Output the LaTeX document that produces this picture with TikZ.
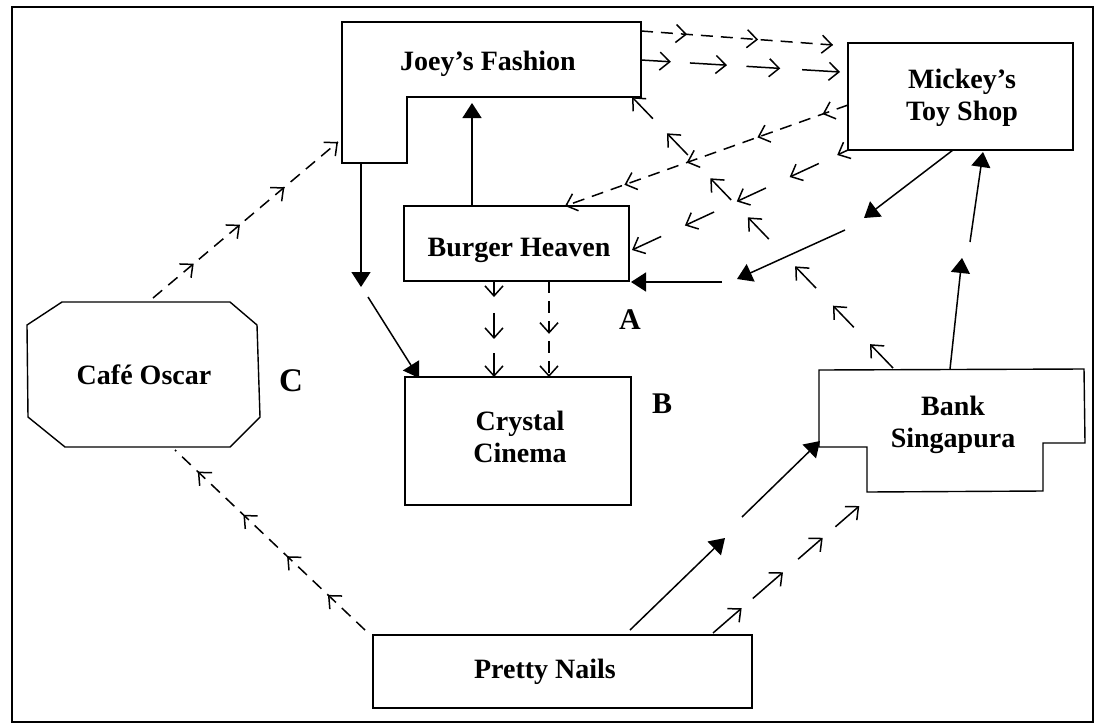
\documentclass[tikz,border=0pt]{standalone}
\usepackage{fontspec}
\setmainfont{Liberation Serif}
\usetikzlibrary{arrows.meta,calc}
\tikzset{
  outline/.style={draw, line width=1.4pt, line join=miter},
  lbl/.style={font=\fontsize{28}{32.5}\selectfont\bfseries, inner sep=0pt, align=center},
  tag/.style={font=\fontsize{30}{34}\selectfont\bfseries, inner sep=0pt},
  bigtag/.style={font=\fontsize{33}{37}\selectfont\bfseries, inner sep=0pt},
  fline/.style={line width=1.5pt, -{Triangle[length=15pt,width=19pt]}},
  sline/.style={line width=1.5pt, -{Straight Barb[length=10pt,width=18pt]}},
  dline/.style={line width=1.5pt, dash pattern=on 12pt off 8pt},
}
\newcommand\dchain[3]{%
  \draw[dline] (#1) -- (#2);
  \foreach \p in {#3}{%
    \draw[sline] ($(#1)!{\p-0.01}!(#2)$) -- ($(#1)!\p!(#2)$);}}
\newcommand\schain[3]{%
  \foreach \s/\e in {#3}{\draw[sline] ($(#1)!\s!(#2)$) -- ($(#1)!\e!(#2)$);}}
\begin{document}
\begin{tikzpicture}[x=1pt, y=-1pt]
\useasboundingbox (0,0) rectangle (1107,726);
\draw[line width=2pt] (12,7) rectangle (1093,722);

% shapes
\draw[outline] (342,22) -- (641,22) -- (641,97) -- (407,97) -- (407,163) -- (342,163) -- cycle;
\node[lbl, anchor=base] (joey) at (488,70) {Joey’s Fashion};

\draw[outline] (848,43) rectangle (1073,150);
\node[lbl] (mickey) at (962,97.8) {Mickey’s\\Toy Shop};

\draw[outline] (404,206) rectangle (629,281);
\node[lbl, anchor=base] (burger) at (519,256) {Burger Heaven};

\draw[outline] (405,377) rectangle (631,505);
\node[lbl] (crystal) at (520,437) {Crystal\\Cinema};

\draw[outline] (62,302) -- (230,302) -- (257,325) -- (260,417) -- (230,447) -- (65,447) -- (28,417) -- (27,325) -- cycle;
\node[lbl, anchor=base] (cafe) at (144,384) {Café Oscar};

\draw[outline] (819,370) -- (1084,369) -- (1085,443) -- (1043,443) -- (1043,491) -- (867,492) -- (867,447) -- (819,447) -- cycle;
\node[lbl] (bank) at (953,425) {Bank\\Singapura};

\draw[outline] (373,635) rectangle (752,708);
\node[lbl, anchor=base] (pretty) at (545,678) {Pretty Nails};

\node[tag, anchor=base] (la) at (630,329) {A};
\node[tag, anchor=base] (lb) at (662,413) {B};
\node[bigtag, anchor=base] (lc) at (291,391) {C};

% connection points
\coordinate (jm1a) at (641,31);  \coordinate (jm1b) at (833,45);
\coordinate (jm2a) at (641,60);  \coordinate (jm2b) at (840,72);
\coordinate (bja) at (472,206);  \coordinate (bjb) at (472,103);
\coordinate (jca) at (361,163);  \coordinate (jcb) at (361,287);
\coordinate (jcc) at (368,297);  \coordinate (jcd) at (419,378);
\coordinate (bc1a) at (494,281); \coordinate (bc1b) at (494,377);
\coordinate (bc2a) at (549,281); \coordinate (bc2b) at (549,377);
\coordinate (mb1a) at (953,150); \coordinate (mb1b) at (864,218);
\coordinate (mb1c) at (845,230); \coordinate (mb1d) at (737,279);
\coordinate (mb1e) at (722,282); \coordinate (mb1f) at (631,282);
\coordinate (bama) at (950,369); \coordinate (bamb) at (962,258);
\coordinate (bamc) at (970,242); \coordinate (bamd) at (983,152);
\coordinate (mb2a) at (848,150); \coordinate (mb2b) at (632,250);
\coordinate (mb3a) at (848,105); \coordinate (mb3b) at (565,206);
\coordinate (baja) at (893,368); \coordinate (bajb) at (632,97);
\coordinate (pca) at (365,630);  \coordinate (pcb) at (175,450);
\coordinate (cja) at (153,298);  \coordinate (cjb) at (338,142);
\coordinate (pb1a) at (630,630); \coordinate (pb1b) at (725,538);
\coordinate (pb1c) at (742,517); \coordinate (pb1d) at (820,441);
\coordinate (pb2a) at (713,633); \coordinate (pb2b) at (872,495);

% connectors
\dchain{jm1a}{jm1b}{0.24,0.61,1}
\schain{jm2a}{jm2b}{0/0.15,0.246/0.432,0.53/0.70,0.81/1}
\draw[fline] (bja) -- (bjb);
\draw[fline] (jca) -- (jcb);
\draw[fline] (jcc) -- (jcd);
\schain{bc1a}{bc1b}{0/0.167,0.333/0.604,0.75/1}
\dchain{bc2a}{bc2b}{0.55,1}
\draw[fline] (mb1a) -- (mb1b);
\draw[fline] (mb1c) -- (mb1d);
\draw[fline] (mb1e) -- (mb1f);
\draw[fline] (bama) -- (bamb);
\draw[fline] (bamc) -- (bamd);
\schain{mb2a}{mb2b}{0/0.05,0.135/0.27,0.38/0.515,0.62/0.755,0.865/1}
\dchain{mb3a}{mb3b}{0.09,0.32,0.57,0.79,1}
\schain{baja}{bajb}{0/0.088,0.15/0.23,0.295/0.375,0.476/0.556,0.62/0.70,0.786/0.866,0.92/1}
\dchain{pca}{pcb}{0.195,0.41,0.64,0.88}
\dchain{cja}{cjb}{0.22,0.47,0.71,1}
\draw[fline] (pb1a) -- (pb1b);
\draw[fline] (pb1c) -- (pb1d);
\schain{pb2a}{pb2b}{0/0.18,0.25/0.44,0.535/0.69,0.77/0.92}
\end{tikzpicture}
\end{document}
